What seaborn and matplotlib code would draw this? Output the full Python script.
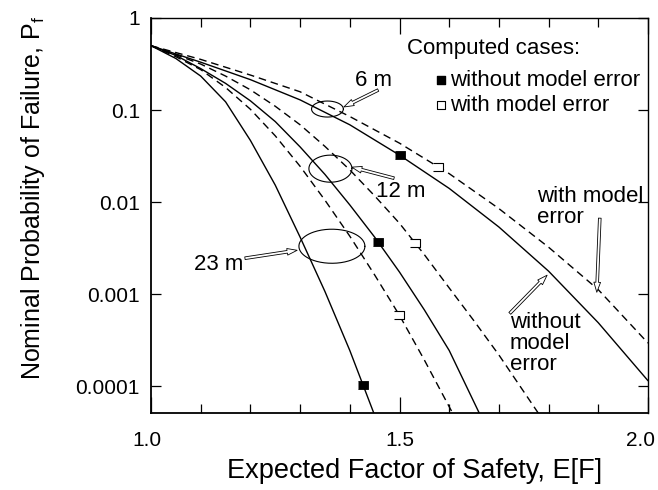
import numpy as np
import pandas as pd
import matplotlib
matplotlib.use("Agg")
import matplotlib.pyplot as plt
from matplotlib.ticker import FixedLocator, FixedFormatter, NullLocator, NullFormatter
from matplotlib.transforms import ScaledTranslation
import seaborn as sns

# Nominal probability of failure vs expected factor of safety, per excavation depth
ef_6m_without = [1.0, 1.1, 1.2, 1.3, 1.4, 1.5, 1.6, 1.7, 1.8, 1.9, 2.0]
pf_6m_without = [0.5, 0.331, 0.214, 0.129, 0.0692, 0.0324, 0.0141, 0.00537, 0.00178, 0.00049, 0.000115]
ef_6m_with = [1.0, 1.1, 1.2, 1.3, 1.4, 1.5, 1.6, 1.7, 1.8, 1.9, 2.0]
pf_6m_with = [0.5, 0.355, 0.240, 0.158, 0.0851, 0.0437, 0.0204, 0.00851, 0.00324, 0.00112, 0.000295]

ef_12m_without = [1.0, 1.05, 1.1, 1.15, 1.2, 1.25, 1.3, 1.35, 1.4, 1.45, 1.5, 1.55, 1.6, 1.67]
pf_12m_without = [0.5, 0.392, 0.282, 0.195, 0.126, 0.075, 0.0398, 0.020, 0.00933, 0.00417, 0.00174, 0.000676, 0.000245, 0.00004]
ef_12m_with = [1.0, 1.05, 1.1, 1.15, 1.2, 1.25, 1.3, 1.35, 1.4, 1.45, 1.5, 1.55, 1.6, 1.65, 1.7, 1.79]
pf_12m_with = [0.5, 0.400, 0.316, 0.234, 0.166, 0.110, 0.0692, 0.0403, 0.0224, 0.0117, 0.00589, 0.00269, 0.00117, 0.000513, 0.000219, 0.000042]

ef_23m_without = [1.0, 1.05, 1.1, 1.15, 1.2, 1.25, 1.3, 1.35, 1.4, 1.46]
pf_23m_without = [0.5, 0.363, 0.234, 0.123, 0.0468, 0.0153, 0.00417, 0.00107, 0.000245, 0.000035]
ef_23m_with = [1.0, 1.05, 1.1, 1.15, 1.2, 1.25, 1.3, 1.35, 1.4, 1.45, 1.5, 1.55, 1.6, 1.62]
pf_23m_with = [0.5, 0.380, 0.275, 0.176, 0.102, 0.0525, 0.0245, 0.0105, 0.00427, 0.00162, 0.000589, 0.000193, 0.00006, 0.000038]

# Computed cases (squares)
ef_cases_without = [1.501, 1.457, 1.427]
pf_cases_without = [0.0324, 0.0037, 0.000103]
ef_cases_with = [1.577, 1.531, 1.499]
pf_cases_with = [0.0240, 0.0036, 0.00059]

# Depth groups marked with ellipses
depth_labels = ["6 m", "12 m", "23 m"]
ellipse_ef = [1.355, 1.361, 1.364]
ellipse_pf = [0.1026, 0.0231, 0.00332]

y_ticks = [1, 0.1, 0.01, 0.001, 0.0001]
y_ticklabels = ["1", "0.1", "0.01", "0.001", "0.0001"]
x_ticks = [1.0, 1.5, 2.0]
x_ticklabels = ["1.0", "1.5", "2.0"]

WITHOUT = "without model error"
WITH = "with model error"

curves = [
    ("6 m", WITHOUT, ef_6m_without, pf_6m_without),
    ("6 m", WITH, ef_6m_with, pf_6m_with),
    ("12 m", WITHOUT, ef_12m_without, pf_12m_without),
    ("12 m", WITH, ef_12m_with, pf_12m_with),
    ("23 m", WITHOUT, ef_23m_without, pf_23m_without),
    ("23 m", WITH, ef_23m_with, pf_23m_with),
]
df = pd.concat(
    [pd.DataFrame({"E": e, "Pf": p, "depth": d, "case": c}) for d, c, e, p in curves],
    ignore_index=True,
)

sns.set_theme(style="ticks")
plt.rcParams["font.family"] = ["Liberation Sans", "DejaVu Sans"]
plt.rcParams["mathtext.default"] = "regular"
for key in ("text.color", "axes.labelcolor", "xtick.color", "ytick.color", "axes.edgecolor"):
    plt.rcParams[key] = "black"

fig = plt.figure(figsize=(6.58, 4.90), dpi=100)
ax = fig.add_axes([0.2295, 0.1571, 0.7553, 0.8062])
ax.set_yscale("log")

sns.lineplot(
    data=df, x="E", y="Pf", hue="depth", style="case",
    palette=["black"] * 3,
    dashes={WITHOUT: "", WITH: (5.5, 3.5)},
    estimator=None, sort=False, legend=False, lw=1.0, ax=ax,
)

rect = [(-1, -0.7), (1, -0.7), (1, 0.7), (-1, 0.7)]
sns.scatterplot(x=ef_cases_without, y=pf_cases_without, marker=rect, s=60,
                color="black", edgecolor="black", linewidth=0.6, zorder=5, ax=ax)
sns.scatterplot(x=ef_cases_with, y=pf_cases_with, marker=rect, s=60,
                facecolor="white", edgecolor="black", linewidth=0.8, zorder=5, ax=ax)

# ellipses drawn in log space around each depth group
half_w = [0.032, 0.0433, 0.0664]
half_h = [0.087, 0.147, 0.185]
t = np.linspace(0, 2 * np.pi, 200)
for cx, cy, a, b in zip(ellipse_ef, ellipse_pf, half_w, half_h):
    ax.plot(cx + a * np.cos(t), 10 ** (np.log10(cy) + b * np.sin(t)),
            color="black", lw=0.8, zorder=4)

fs = 16
arrow = dict(arrowstyle="simple,head_length=0.6,head_width=0.4,tail_width=0.16",
             fc="white", ec="black", lw=0.6, shrinkA=0, shrinkB=0)

# depth labels with leader arrows
ax.text(1.447, 0.212, depth_labels[0], fontsize=fs, ha="center", va="center")
ax.annotate("", xy=(1.388, 0.108), xytext=(1.457, 0.165), arrowprops=arrow)
ax.text(1.503, 0.0132, depth_labels[1], fontsize=fs, ha="center", va="center")
ax.annotate("", xy=(1.404, 0.024), xytext=(1.489, 0.0182), arrowprops=arrow)
ax.text(1.137, 0.00212, depth_labels[2], fontsize=fs, ha="center", va="center")
ax.annotate("", xy=(1.294, 0.0030), xytext=(1.189, 0.00246), arrowprops=arrow)

# curve-type labels
ax.text(1.777, 0.0148, "with model\nerror", fontsize=fs, ha="left", va="top", linespacing=0.95)
ax.annotate("", xy=(1.897, 0.00105), xytext=(1.903, 0.0067), arrowprops=arrow)
ax.text(1.722, 0.00064, "without\nmodel\nerror", fontsize=fs, ha="left", va="top", linespacing=1.0)
ax.annotate("", xy=(1.797, 0.00161), xytext=(1.722, 0.00062), arrowprops=arrow)

# key for computed cases
ax.text(1.515, 0.472, "Computed cases:", fontsize=fs, ha="left", va="center")
ax.scatter([1.584], [0.212], marker="s", s=32, color="black", zorder=5)
ax.scatter([1.584], [0.1133], marker="s", s=32, facecolor="white", edgecolor="black", linewidth=0.8, zorder=5)
ax.text(1.602, 0.212, WITHOUT, fontsize=fs, ha="left", va="center")
ax.text(1.602, 0.1133, WITH, fontsize=fs, ha="left", va="center")

# axes
ax.set_xlim(1.0, 2.0)
ax.set_ylim(10 ** -4.29, 1)
ax.xaxis.set_major_locator(FixedLocator(x_ticks))
ax.xaxis.set_major_formatter(FixedFormatter(x_ticklabels))
ax.xaxis.set_minor_locator(FixedLocator(np.arange(1.1, 2.0, 0.1)))
ax.xaxis.set_minor_formatter(NullFormatter())
ax.yaxis.set_major_locator(FixedLocator(y_ticks))
ax.yaxis.set_major_formatter(FixedFormatter(y_ticklabels))
ax.yaxis.set_minor_locator(NullLocator())

ax.tick_params(axis="x", which="major", direction="in", top=True, length=11.5, width=0.9,
               labelsize=15, pad=13, colors="black")
ax.tick_params(axis="x", which="minor", direction="in", top=True, length=6.5, width=0.9)
ax.tick_params(axis="y", which="major", direction="in", right=True, length=7.2, width=0.9,
               labelsize=15, pad=8, colors="black")
for s in ax.spines.values():
    s.set_visible(True)
    s.set_color("black")
    s.set_linewidth(1.0)
ax.spines["left"].set_linewidth(1.3)
ax.spines["bottom"].set_linewidth(1.3)

ax.set_xlabel("Expected Factor of Safety, E[F]", fontsize=19.5, color="black")
ax.xaxis.set_label_coords(0.53, -0.115)
ax.set_ylabel("Nominal Probability of Failure, $P_f$", fontsize=18, color="black")
ax.yaxis.set_label_coords(-0.21, 0.544)

# nudge the end tick labels slightly left so "2.0" stays inside the figure
major_ticks = ax.xaxis.get_major_ticks()
for tick, dx in ((major_ticks[0], -4), (major_ticks[-1], -7)):
    tick.label1.set_transform(tick.label1.get_transform()
                              + ScaledTranslation(dx / 100, 0, fig.dpi_scale_trans))

fig.savefig("out.png", dpi=100)
